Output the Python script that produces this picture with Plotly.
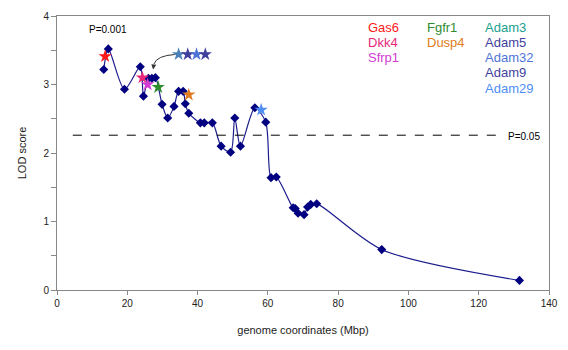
import plotly.graph_objects as go

# Marker positions (Mbp) and LOD scores
pos_mbp = [13.3, 14.6, 19.2, 23.7, 24.6, 26.0, 27.0, 28.0, 29.9, 31.5, 33.3, 34.6, 35.9,
           36.5, 37.5, 40.8, 41.9, 44.2, 46.7, 49.4, 50.6, 52.2, 56.3, 59.4, 60.9, 62.4,
           67.2, 67.8, 68.6, 70.3, 71.3, 72.2, 73.9, 92.4, 131.6]
lod = [3.22, 3.52, 2.93, 3.26, 2.83, 3.09, 3.09, 3.10, 2.71, 2.51, 2.68, 2.90, 2.90,
       2.72, 2.58, 2.44, 2.44, 2.44, 2.10, 2.01, 2.51, 2.10, 2.66, 2.45, 1.64, 1.65,
       1.20, 1.19, 1.12, 1.10, 1.21, 1.25, 1.26, 0.59, 0.14]

# Candidate genes marked with stars
star_genes = ["Gas6", "Dkk4", "Sfrp1", "Fgfr1", "Dusp4", "Adam29"]
star_x = [13.7, 24.3, 25.8, 28.8, 37.5, 58.1]
star_y = [3.41, 3.10, 3.00, 2.96, 2.85, 2.63]
star_colors = ["#ff1a1a", "#e8287a", "#d23ad2", "#2e8b2e", "#e07b22", "#4f8ef5"]

# Cluster of four stars (Adam3, Adam5, Adam32, Adam9)
cluster_genes = ["Adam3", "Adam5", "Adam32", "Adam9"]
cluster_x = [34.6, 37.2, 39.7, 42.2]
cluster_y = [3.44, 3.44, 3.44, 3.44]
cluster_colors = ["#4a80b8", "#3f3f9e", "#4f74d8", "#3f3f9e"]

# Gene name labels
label_text = ["Gas6", "Dkk4", "Sfrp1", "Fgfr1", "Dusp4",
              "Adam3", "Adam5", "Adam32", "Adam9", "Adam29"]
label_colors = ["#ff1a1a", "#e8287a", "#d23ad2", "#2e8b2e", "#e07b22",
                "#20a090", "#3f3f9e", "#4f74d8", "#3f3f9e", "#4f8ef5"]
label_x = [87.9, 87.9, 87.9, 104.6, 104.6, 121.3, 121.3, 121.3, 121.3, 121.3]
label_y = [3.833, 3.61, 3.39, 3.833, 3.61, 3.833, 3.61, 3.39, 3.17, 2.94]

threshold_05 = 2.26
x_ticks = [0, 20, 40, 60, 80, 100, 120, 140]
y_ticks = [0, 1, 2, 3, 4]

FONT = "Liberation Sans, Arial, sans-serif"

fig = go.Figure()

fig.add_trace(go.Scatter(
    x=pos_mbp, y=lod, mode="lines+markers",
    line=dict(color="#1c1c8e", width=1.2, shape="spline", smoothing=0.8),
    marker=dict(symbol="diamond", size=7, color="#000080"),
    showlegend=False, hoverinfo="x+y"))

fig.add_trace(go.Scatter(
    x=star_x, y=star_y, mode="markers", text=star_genes,
    marker=dict(symbol="star", size=10, color=star_colors),
    showlegend=False, hoverinfo="text"))

fig.add_trace(go.Scatter(
    x=cluster_x, y=cluster_y, mode="markers", text=cluster_genes,
    marker=dict(symbol="star", size=10, color=cluster_colors),
    showlegend=False, hoverinfo="text"))

# threshold line
fig.add_shape(type="line", x0=4.5, x1=126.2, y0=threshold_05, y1=threshold_05,
              xref="x", yref="y", line=dict(color="black", width=1, dash="dash"))

# curved arrow from star cluster
fig.add_shape(type="path", xref="x", yref="y",
              path="M 33.5,3.438 Q 28.4,3.42 27.6,3.30",
              line=dict(color="#333333", width=1))
fig.add_annotation(x=27.35, y=3.22, ax=27.6, ay=3.31, xref="x", yref="y",
                   axref="x", ayref="y", showarrow=True, arrowhead=2,
                   arrowsize=1, arrowwidth=1, arrowcolor="#333333", text="")

fig.add_annotation(x=14.6, y=3.81, text="P=0.001", showarrow=False,
                   font=dict(size=10, color="black", family=FONT))
fig.add_annotation(x=132.8, y=2.245, text="P=0.05", showarrow=False,
                   font=dict(size=10, color="black", family=FONT))

for t, c, lx, ly in zip(label_text, label_colors, label_x, label_y):
    fig.add_annotation(x=lx, y=ly, text=t, showarrow=False, xanchor="left",
                       font=dict(size=13, color=c, family=FONT))

fig.update_layout(
    width=568, height=350,
    margin=dict(l=57, r=14, t=10, b=60),
    paper_bgcolor="white", plot_bgcolor="white",
    font=dict(family=FONT, size=10, color="#222222"),
    xaxis=dict(range=[0, 140], tickvals=x_ticks, ticks="outside", ticklen=4,
               tickcolor="#888888", showline=True, linecolor="#888888", mirror=True,
               showgrid=False, zeroline=False,
               title=dict(text="genome coordinates (Mbp)", font=dict(size=11), standoff=18)),
    yaxis=dict(range=[0, 4], tickvals=y_ticks, ticks="outside", ticklen=5,
               tickcolor="#888888", showline=True, linecolor="#888888", mirror=True,
               showgrid=False, zeroline=False,
               minor=dict(dtick=0.5, ticks="outside", ticklen=5, tickcolor="#888888"),
               title=dict(text="LOD score", font=dict(size=11), standoff=14)),
)

fig.write_html("out.html")
